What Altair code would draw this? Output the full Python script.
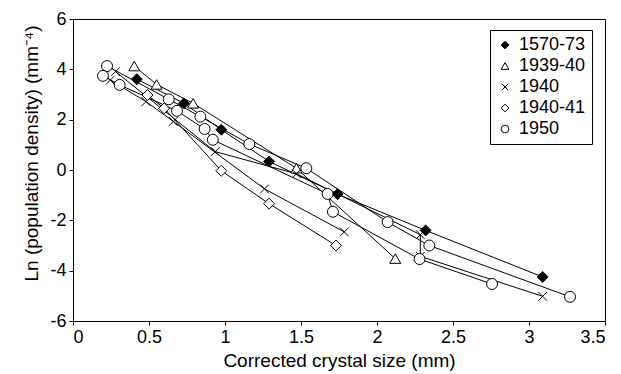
import altair as alt
import pandas as pd

# ---- data ----
series_names = ["1570-73", "1939-40", "1940", "1940-41", "1950"]

# filled diamonds (1570-73)
s1570_x = [0.42, 0.73, 0.976, 1.29, 1.74, 2.32, 3.09]
s1570_y = [3.61, 2.65, 1.60, 0.34, -0.96, -2.40, -4.25]

# open triangles (1939-40)
s1939_x = [0.403, 0.55, 0.79, 1.47, 2.12]
s1939_y = [4.13, 3.40, 2.65, 0.07, -3.52]

# crosses (1940), two traverses
s1940a_x = [0.245, 0.48, 0.66, 1.26, 1.785]
s1940a_y = [3.57, 2.72, 1.93, -0.75, -2.46]
s1940b_x = [0.28, 0.936, 1.47, 2.285, 2.285, 3.09]
s1940b_y = [3.91, 0.73, -0.15, -2.57, -3.43, -5.02]

# open diamonds (1940-41)
s19401_x = [0.49, 0.60, 0.976, 1.29, 1.73]
s19401_y = [2.98, 2.45, -0.03, -1.34, -3.00]

# open circles (1950), two traverses
s1950a_x = [0.224, 0.63, 0.838, 1.16, 1.535, 2.07, 2.344, 3.27]
s1950a_y = [4.13, 2.81, 2.12, 1.03, 0.07, -2.07, -3.00, -5.04]
s1950b_x = [0.197, 0.307, 0.684, 0.866, 0.92, 1.675, 1.71, 2.28, 2.757]
s1950b_y = [3.74, 3.38, 2.35, 1.63, 1.20, -0.95, -1.66, -3.54, -4.53]

groups = [
    ("1570-73", "g1", s1570_x, s1570_y),
    ("1939-40", "g2", s1939_x, s1939_y),
    ("1940", "g3", s1940a_x, s1940a_y),
    ("1940", "g4", s1940b_x, s1940b_y),
    ("1940-41", "g5", s19401_x, s19401_y),
    ("1950", "g6", s1950a_x, s1950a_y),
    ("1950", "g7", s1950b_x, s1950b_y),
]

rows = []
for name, g, xs, ys in groups:
    for i, (xv, yv) in enumerate(zip(xs, ys)):
        rows.append({"series": name, "grp": g, "idx": i, "x": xv, "y": yv})
df = pd.DataFrame(rows)

FONT = "Liberation Sans"
x_path = "M-0.8,-0.8L0.8,0.8M-0.8,0.8L0.8,-0.8"

shape_scale = alt.Scale(
    domain=series_names,
    range=["diamond", "triangle-up", x_path, "diamond", "circle"],
)
fill_scale = alt.Scale(
    domain=series_names,
    range=["black", "white", "white", "white", "white"],
)
stroke_scale = alt.Scale(
    domain=series_names,
    range=["black", "black", "black", "black", "black"],
)

x_enc = alt.X(
    "x:Q",
    title="Corrected crystal size (mm)",
    scale=alt.Scale(domain=[0, 3.5], nice=False),
    axis=alt.Axis(values=[0, 0.5, 1, 1.5, 2, 2.5, 3, 3.5], labelExpr="datum.value + ''"),
)
y_enc = alt.Y(
    "y:Q",
    title="Ln (population density) (mm⁻⁴)",
    scale=alt.Scale(domain=[-6, 6], nice=False),
    axis=alt.Axis(values=[-6, -4, -2, 0, 2, 4, 6], labelExpr="datum.value + ''",
                  titleY=134),
)

lines = alt.Chart(df).mark_line(color="black", strokeWidth=1).encode(
    x=x_enc, y=y_enc, detail="grp:N", order="idx:Q"
)

legend_opts = dict(
    orient="none", legendX=417, legendY=11,
    symbolStrokeWidth=1, symbolSize=60,
)

points = alt.Chart(df).mark_point(filled=True, strokeWidth=1, size=120, opacity=1,
                                  fillOpacity=1, strokeOpacity=1).encode(
    x=x_enc,
    y=y_enc,
    shape=alt.Shape("series:N", scale=shape_scale, title=None,
                    legend=alt.Legend(**legend_opts)),
    fill=alt.Fill("series:N", scale=fill_scale, title=None,
                  legend=alt.Legend(**legend_opts)),
    stroke=alt.Stroke("series:N", scale=stroke_scale, title=None,
                      legend=alt.Legend(**legend_opts)),
)

chart = alt.layer(lines, points).properties(
    width=532, height=302,
    autosize=alt.AutoSizeParams(type="none"),
    padding={"left": 73, "top": 19, "right": 16, "bottom": 53},
).configure_view(
    stroke="black", strokeWidth=1
).configure_axis(
    grid=False, domainColor="black", tickColor="black", tickSize=4,
    labelFont=FONT, labelFontSize=18, labelColor="black", labelPadding=3,
    titleFont=FONT, titleFontSize=19, titleColor="black", titleFontWeight="normal",
).configure_axisX(
    titlePadding=5,
).configure_axisY(
    titlePadding=8,
).configure_legend(
    labelFont=FONT, labelFontSize=18, labelColor="black",
    strokeColor="black", padding=6, rowPadding=3,
    labelOffset=5, cornerRadius=0, fillColor="white",
)

chart.save("out.html", embed_options={"renderer": "svg", "actions": False})
